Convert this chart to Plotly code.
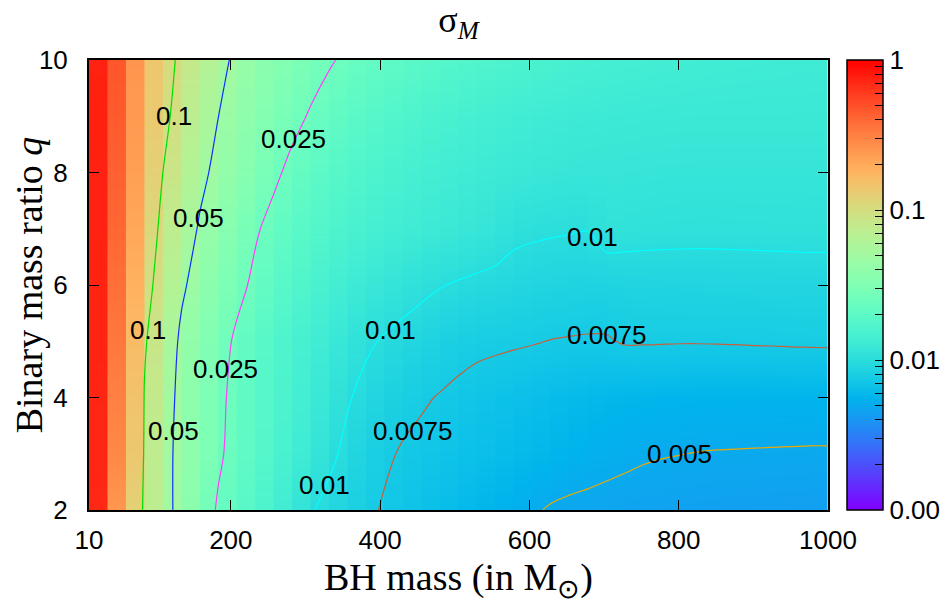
import numpy as np
import plotly.graph_objects as go

# ---------------- data ----------------
# BH mass grid nodes (solar masses)
bh_mass = [10, 34.75, 59.5, 84.25, 109, 133.75, 158.5, 183.25, 208, 232.75,
           257.5, 282.25, 307, 331.75, 356.5, 381.25, 406, 430.75, 455.5, 480.25,
           505, 529.75, 554.5, 579.25, 604, 628.75, 653.5, 678.25, 703, 727.75,
           752.5, 777.25, 802, 826.75, 851.5, 876.25, 901, 925.75, 950.5, 975.25, 1000]
# binary mass ratio grid
mass_ratio = [2, 3, 4, 5, 6, 7, 8, 9, 10]

# log10(sigma_M) at each mass node, one list per q row
log_sigma_q2 = [0.10, -0.40, -0.80, -1.03, -1.25, -1.35, -1.52, -1.62, -1.69, -1.76,
                -1.83, -1.905, -1.99, -2.035, -2.07, -2.105, -2.135, -2.155, -2.175, -2.195,
                -2.215, -2.235, -2.25, -2.27, -2.29, -2.31, -2.32, -2.325, -2.33, -2.335,
                -2.34, -2.343, -2.346, -2.349, -2.351, -2.353, -2.355, -2.357, -2.358, -2.359, -2.36]
log_sigma_q3 = [0.09, -0.38, -0.70, -1.02, -1.24, -1.36, -1.46, -1.58, -1.66, -1.72,
                -1.785, -1.85, -1.91, -1.975, -2.03, -2.08, -2.11, -2.135, -2.148, -2.161,
                -2.174, -2.187, -2.20, -2.213, -2.226, -2.239, -2.252, -2.264, -2.275, -2.284,
                -2.292, -2.297, -2.300, -2.303, -2.305, -2.306, -2.307, -2.308, -2.309, -2.31, -2.31]
log_sigma_q4 = [0.08, -0.36, -0.65, -1.01, -1.20, -1.37, -1.47, -1.565, -1.655, -1.71,
                -1.77, -1.825, -1.88, -1.935, -1.99, -2.035, -2.07, -2.095, -2.115, -2.13,
                -2.145, -2.16, -2.172, -2.184, -2.195, -2.205, -2.215, -2.222, -2.23, -2.235,
                -2.24, -2.244, -2.247, -2.249, -2.25, -2.25, -2.25, -2.25, -2.25, -2.25, -2.25]
log_sigma_q5 = [0.06, -0.33, -0.60, -0.98, -1.17, -1.34, -1.45, -1.54, -1.63, -1.70,
                -1.76, -1.81, -1.855, -1.895, -1.94, -1.982, -2.012, -2.035, -2.06, -2.08,
                -2.095, -2.105, -2.11, -2.115, -2.12, -2.127, -2.131, -2.134, -2.133, -2.118,
                -2.118, -2.119, -2.12, -2.12, -2.119, -2.118, -2.116, -2.115, -2.113, -2.112, -2.111]
log_sigma_q6 = [0.05, -0.31, -0.55, -0.92, -1.12, -1.27, -1.39, -1.48, -1.56, -1.635,
                -1.70, -1.755, -1.80, -1.84, -1.875, -1.905, -1.93, -1.955, -1.975, -1.995,
                -2.01, -2.022, -2.033, -2.043, -2.052, -2.06, -2.065, -2.068, -2.07, -2.062,
                -2.06, -2.058, -2.057, -2.056, -2.055, -2.054, -2.053, -2.052, -2.051, -2.05, -2.05]
log_sigma_q7 = [0.04, -0.29, -0.50, -0.87, -1.06, -1.21, -1.32, -1.42, -1.50, -1.585,
                -1.65, -1.70, -1.745, -1.78, -1.81, -1.835, -1.855, -1.872, -1.887, -1.90,
                -1.912, -1.926, -1.943, -1.976, -1.984, -1.989, -1.993, -1.997, -1.956, -1.962,
                -1.966, -1.969, -1.971, -1.972, -1.972, -1.971, -1.97, -1.969, -1.968, -1.967, -1.967]
log_sigma_q8 = [0.03, -0.28, -0.46, -0.83, -1.00, -1.14, -1.26, -1.35, -1.43, -1.50,
                -1.575, -1.64, -1.685, -1.725, -1.76, -1.785, -1.81, -1.83, -1.848, -1.862,
                -1.875, -1.886, -1.896, -1.906, -1.913, -1.92, -1.925, -1.93, -1.925, -1.929,
                -1.932, -1.934, -1.935, -1.935, -1.935, -1.935, -1.935, -1.935, -1.935, -1.935, -1.935]
log_sigma_q9 = [0.02, -0.26, -0.43, -0.80, -0.95, -1.09, -1.20, -1.30, -1.38, -1.45,
                -1.51, -1.565, -1.615, -1.66, -1.70, -1.73, -1.757, -1.78, -1.80, -1.817,
                -1.832, -1.845, -1.857, -1.867, -1.876, -1.883, -1.889, -1.894, -1.896, -1.899,
                -1.901, -1.903, -1.904, -1.905, -1.905, -1.905, -1.905, -1.905, -1.905, -1.905, -1.905]
log_sigma_q10 = [0.00, -0.25, -0.40, -0.80, -0.90, -1.06, -1.13, -1.25, -1.34, -1.40,
                 -1.455, -1.505, -1.55, -1.59, -1.625, -1.655, -1.68, -1.705, -1.725, -1.745,
                 -1.76, -1.775, -1.79, -1.80, -1.81, -1.82, -1.83, -1.838, -1.845, -1.851,
                 -1.856, -1.861, -1.865, -1.869, -1.872, -1.875, -1.877, -1.879, -1.881, -1.883, -1.885]

contour_levels = [0.1, 0.05, 0.025, 0.01, 0.0075, 0.005]
contour_labels = ["0.1", "0.05", "0.025", "0.01", "0.0075", "0.005"]
contour_colors = ["#00e000", "#1030ff", "#ff40ff", "#00ffff", "#c8603a", "#f0a800"]
# where along each contour its labels sit: (q of the label, which crossing, x nudge in px)
label_spots = [
    [(9.0, 0, 4), (5.2, 0, 0)],
    [(7.2, 0, 0), (3.4, 0, 0)],
    [(8.6, 0, -1), (4.5, 0, -3)],
    [(6.85, -1, 1), (5.2, 0, 2), (2.45, 0, -2)],
    [(5.12, -1, 0), (3.4, 0, 3)],
    [(3.0, 0, -7)],
]

x_tickvals = [10, 200, 400, 600, 800, 1000]
y_tickvals = [2, 4, 6, 8, 10]
cbar_tickvals = [-3, -2, -1, 0]
cbar_ticktext = ["0.001", "0.01", "0.1", "1"]
cbar_minor = [np.log10(m * 10.0 ** e) for e in (-3, -2, -1) for m in range(2, 10)]

# ---------------- build ----------------
log_sigma = np.array([log_sigma_q2, log_sigma_q3, log_sigma_q4, log_sigma_q5, log_sigma_q6,
                      log_sigma_q7, log_sigma_q8, log_sigma_q9, log_sigma_q10])
sigma = 10.0 ** log_sigma


def pal(t):  # gnuplot rgbformulae 33,13,10
    r = min(1.0, abs(2 * t - 0.5))
    g = max(0.0, np.sin(np.pi * t))
    b = max(0.0, np.cos(np.pi * t / 2))
    return "rgb(%d,%d,%d)" % (round(r * 255), round(g * 255), round(b * 255))


cscale = [[t, pal(t)] for t in np.linspace(0, 1, 41)]


def crossing_mass(level, q0, pick):
    row = np.array([np.interp(q0, mass_ratio, log_sigma[:, k]) for k in range(len(bh_mass))])
    d = row - np.log10(level)
    idx = np.where(np.sign(d[:-1]) != np.sign(d[1:]))[0]
    if len(idx) == 0:
        return None
    k = idx[pick]
    return bh_mass[k] + (bh_mass[k + 1] - bh_mass[k]) * d[k] / (d[k] - d[k + 1])


fig = go.Figure()

# pm3d-like cells: one column per mass interval, coloured by mean of its corner nodes
for i in range(len(bh_mass) - 1):
    cell = (log_sigma[:, i] + log_sigma[:, i + 1]) / 2.0
    fig.add_trace(go.Heatmap(
        x=[bh_mass[i], bh_mass[i + 1] + 1.5], y=mass_ratio, z=cell.reshape(-1, 1),
        coloraxis="coloraxis", zsmooth="best", hoverinfo="skip", showlegend=False))

annotations = []
for lev, txt, col, spots in zip(contour_levels, contour_labels, contour_colors, label_spots):
    fig.add_trace(go.Contour(
        x=bh_mass, y=mass_ratio, z=sigma,
        contours=dict(start=lev, end=lev, size=lev, coloring="none", showlabels=False),
        line=dict(color=col, width=1.2), showscale=False, hoverinfo="skip",
        showlegend=False))
    for q0, pick, dx in spots:
        m = crossing_mass(lev, q0, pick)
        if m is None:
            continue
        annotations.append(dict(x=m, y=q0, xref="x", yref="y", text=txt, showarrow=False,
                                xanchor="center", yanchor="middle", xshift=dx,
                                font=dict(size=26, family="Liberation Sans", color="black")))

W, H = 941, 605   # page body adds an 8px offset at top-left
ML, MT, MR, MB = 81, 52, 121, 103
cb_x = (847 - 89) / 739
all_ticks = cbar_tickvals + cbar_minor
all_text = cbar_ticktext + [""] * len(cbar_minor)
fig.update_layout(
    width=W, height=H, showlegend=False,
    margin=dict(l=ML, r=MR, t=MT, b=MB, autoexpand=False),
    paper_bgcolor="white", plot_bgcolor="white",
    font=dict(family="Liberation Sans", size=26, color="black"),
    title=dict(text="σ<sub><i>M</i></sub>", x=(ML + 739 / 2) / W, xanchor="center",
               y=1 - 11 / H, yanchor="middle",
               font=dict(family="Liberation Serif", size=36)),
    coloraxis=dict(colorscale=cscale, cmin=-3, cmax=0,
                   colorbar=dict(x=cb_x, xanchor="left", y=0.5, yanchor="middle",
                                 len=1, lenmode="fraction", thickness=36,
                                 xpad=0, ypad=0, outlinewidth=1.5, outlinecolor="black",
                                 tickvals=all_ticks, ticktext=all_text,
                                 ticks="inside", ticklen=8, tickwidth=1.2, tickcolor="black",
                                 tickfont=dict(size=26, family="Liberation Sans"))),
    xaxis=dict(range=[10, 1000], tickvals=x_tickvals, ticks="inside", ticklen=10,
               tickwidth=1.2, tickcolor="black", showline=True, linewidth=2,
               linecolor="black", mirror="ticks", showgrid=False, zeroline=False,
               ticklabelstandoff=6,
               title=dict(text="BH mass (in M<sub>⊙</sub>)", standoff=9,
                          font=dict(family="Liberation Serif", size=38))),
    yaxis=dict(range=[2, 10], tickvals=y_tickvals, ticks="inside", ticklen=10,
               tickwidth=1.2, tickcolor="black", showline=True, linewidth=2,
               linecolor="black", mirror="ticks", showgrid=False, zeroline=False,
               ticklabelstandoff=14,
               title=dict(text="Binary mass ratio <i>q</i>", standoff=10,
                          font=dict(family="Liberation Serif", size=38))),
    annotations=annotations,
)

fig.write_html("out.html")
